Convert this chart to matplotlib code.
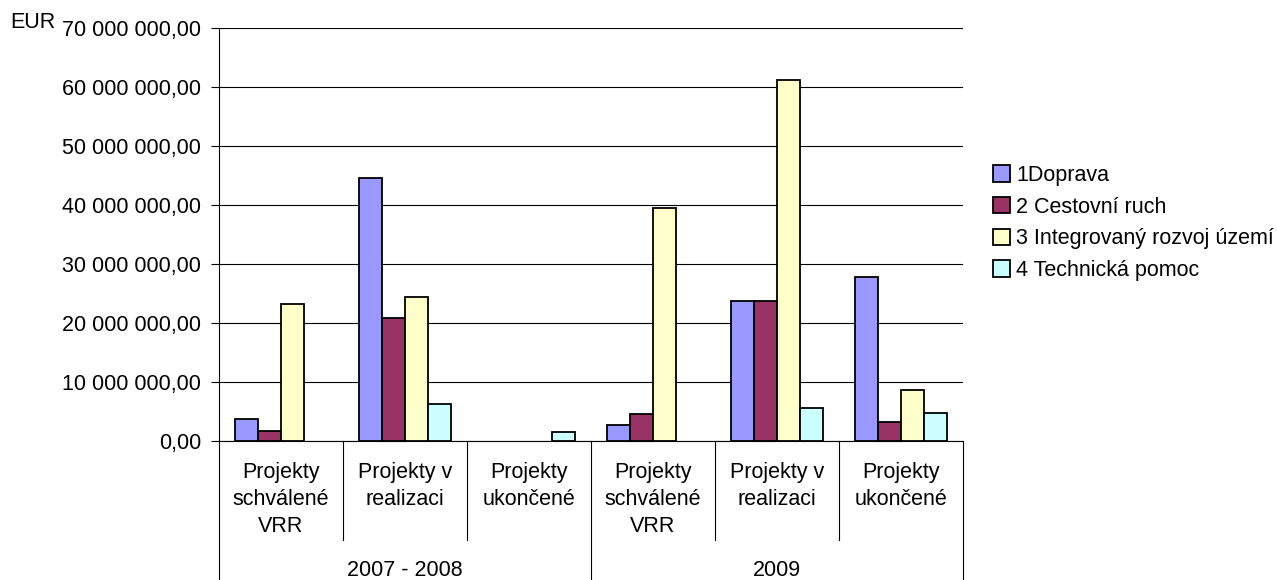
import matplotlib
matplotlib.use("Agg")
import matplotlib.pyplot as plt
import numpy as np
from matplotlib.patches import Rectangle
from matplotlib.ticker import FuncFormatter, MultipleLocator

plt.rcParams["font.family"] = ["Liberation Sans", "DejaVu Sans"]

# data
categories = [
    "Projekty\nschválené\nVRR",
    "Projekty v\nrealizaci",
    "Projekty\nukončené",
    "Projekty\nschválené\nVRR",
    "Projekty v\nrealizaci",
    "Projekty\nukončené",
]
groups = ["2007 - 2008", "2009"]
series = ["1Doprava", "2 Cestovní ruch", "3 Integrovaný rozvoj území", "4 Technická pomoc"]
doprava = [3.65e6, 44.5e6, 0, 2.7e6, 23.8e6, 27.85e6]
cestovni = [1.7e6, 20.8e6, 0, 4.5e6, 23.8e6, 3.2e6]
integrovany = [23.3e6, 24.35e6, 0, 39.5e6, 61.2e6, 8.6e6]
technicka = [0, 6.2e6, 1.47e6, 0, 5.65e6, 4.8e6]
colors = ["#9999FF", "#993366", "#FFFFCC", "#CCFFFF"]

W, H = 1277, 580
fig = plt.figure(figsize=(W / 100, H / 100), dpi=100)
ax = fig.add_axes([219 / W, 1 - 441 / H, (963 - 219) / W, (441 - 28) / H])

fs = 15.5
x = np.arange(len(categories)) + 0.5
bw = 0.185
for i, (vals, col) in enumerate(zip([doprava, cestovni, integrovany, technicka], colors)):
    # zero values are not drawn, like in the original spreadsheet chart
    v = np.array(vals, dtype=float)
    v[v == 0] = np.nan
    ax.bar(x + (i - 1.5) * bw, v, bw, color=col, edgecolor="black",
           linewidth=1.3, zorder=3)

ax.set_xlim(0, len(categories))
ax.set_ylim(0, 70e6)
ax.yaxis.set_major_locator(MultipleLocator(10e6))
ax.yaxis.set_major_formatter(FuncFormatter(
    lambda v, p: f"{v:,.2f}".replace(",", " ").replace(".", ",")))
ax.grid(axis="y", color="black", linewidth=0.8, zorder=0)
ax.tick_params(axis="y", length=6, width=0.8, pad=7, labelsize=fs)
ax.set_xticks([])
for s in ["top", "right"]:
    ax.spines[s].set_visible(False)
ax.spines["left"].set_linewidth(0.8)
ax.spines["bottom"].set_linewidth(0.8)

# category axis with separators
trans = ax.get_xaxis_transform()
y_cat = -(540 - 441) / (441 - 28)
y_grp = -(580 - 441) / (441 - 28)
for k in range(len(categories) + 1):
    bottom = y_grp if k % 3 == 0 else y_cat
    ax.plot([k, k], [0, bottom], color="black", linewidth=0.8,
            transform=trans, clip_on=False)
for xi, lab in zip(x, categories):
    ax.text(xi, -(462 - 441) / (441 - 28), lab, transform=trans, ha="center",
            va="top", fontsize=fs, linespacing=1.38)
for g, lab in enumerate(groups):
    ax.text(g * 3 + 1.5, -(570 - 441) / (441 - 28), lab, transform=trans,
            ha="center", va="center", fontsize=fs)

fig.text(10 / W, 1 - 23 / H, "EUR", ha="left", va="center", fontsize=fs)

handles = [Rectangle((0, 0), 1, 1, facecolor=c, edgecolor="black", linewidth=1.3)
           for c in colors]
fig.legend(handles, series, loc="upper left", bbox_to_anchor=(982 / W, 1 - 154 / H),
           frameon=False, fontsize=fs, handlelength=0.8, handleheight=0.8,
           handletextpad=0.3, labelspacing=0.5, borderpad=0)

fig.savefig("out.png", dpi=100)
